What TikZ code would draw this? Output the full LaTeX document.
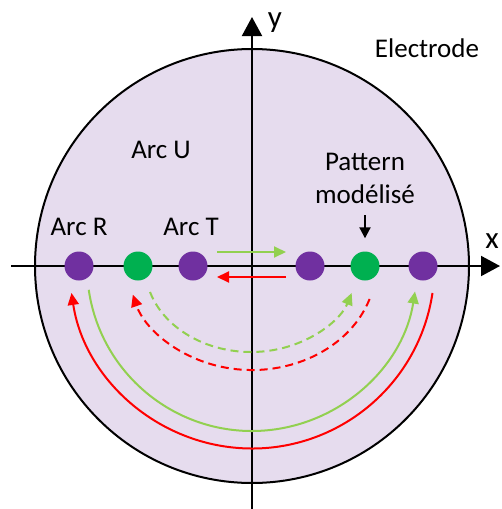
\documentclass[tikz,border=0pt]{standalone}
\usepackage{fontspec}
\setmainfont{Carlito}
\usetikzlibrary{arrows.meta}
\definecolor{elec}{HTML}{E6DCEE}
\definecolor{dotpurple}{HTML}{7030A0}
\definecolor{dotgreen}{HTML}{00B050}
\definecolor{lgreen}{HTML}{92D050}
\definecolor{ared}{HTML}{FF0000}
\tikzset{
  dot/.style={circle,minimum size=29pt,inner sep=0pt},
  pdot/.style={dot,fill=dotpurple},
  gdot/.style={dot,fill=dotgreen},
  lbl/.style={font=\fontsize{27}{33}\selectfont,anchor=base,inner sep=0pt,align=center},
  axlbl/.style={font=\fontsize{31}{33}\selectfont,anchor=base,inner sep=0pt},
  axis/.style={line width=2pt,-{Triangle[length=19pt,width=20pt]}},
  arcarrow/.style={line width=2pt,-{Triangle[length=12pt,width=11pt]}},
  dsh/.style={dash pattern=on 8pt off 5pt},
}
\begin{document}
\begin{tikzpicture}[x=1pt,y=1pt]
\useasboundingbox (0,0) rectangle (501,-509);
% electrode
\node[circle,draw=black,line width=2pt,fill=elec,minimum size=434pt,inner sep=0pt] (elec) at (252,-266) {};
% axes
\coordinate (xs) at (11,-266);
\coordinate (xe) at (500,-266);
\coordinate (ys) at (252,-509);
\coordinate (ye) at (252,-17);
\draw[axis] (xs) -- (xe);
\draw[axis] (ys) -- (ye);
\node[axlbl] (ylab) at (275,-27) {y};
\node[axlbl] (xlab) at (492,-248) {x};
% labels
\node[lbl] (electrode) at (427,-57) {Electrode};
\node[lbl] (arcu) at (161,-158) {Arc U};
\node[lbl] (arcr) at (79,-235) {Arc R};
\node[lbl] (arct) at (191,-235) {Arc T};
\node[lbl] (pattern) at (365,-203) {Pattern\\modélisé};
% dots
\node[pdot] (d1) at (79,-266) {};
\node[gdot] (d2) at (138,-266) {};
\node[pdot] (d3) at (193,-266) {};
\node[pdot] (d4) at (310,-266) {};
\node[gdot] (d5) at (365,-266) {};
\node[pdot] (d6) at (423,-266) {};
% pointer arrow
\coordinate (pa) at (365,-215);
\draw[line width=2pt,-{Triangle[length=11pt,width=11pt]}] (pa) -- ([yshift=13pt]d5.north);
% straight arrows
\coordinate (gs) at (217,-252);
\coordinate (ge) at (286,-252);
\coordinate (rs) at (286,-277);
\coordinate (re) at (217,-277);
\draw[arcarrow,lgreen] (gs) -- (ge);
\draw[arcarrow,ared] (rs) -- (re);
% arcs (centred on the origin)
\coordinate (ro) at ([shift={(-8.5:182.5)}]elec.center);
\coordinate (go) at ([shift={(-171.7:165)}]elec.center);
\coordinate (gd) at ([shift={(-102,-26)}]elec.center);
\coordinate (rd) at ([shift={(117.6,-33)}]elec.center);
\draw[arcarrow,ared] (ro) arc[start angle=-8.5,end angle=-171.5,radius=182.5pt];
\draw[arcarrow,lgreen] (go) arc[start angle=-171.7,end angle=-8.9,radius=165pt];
\draw[arcarrow,lgreen,dsh] (gd) arc[start angle=-162.4,end angle=-18.3,x radius=106pt,y radius=86pt];
\draw[arcarrow,ared,dsh] (rd) arc[start angle=-18.5,end angle=-164,x radius=124pt,y radius=104pt];
\end{tikzpicture}
\end{document}
